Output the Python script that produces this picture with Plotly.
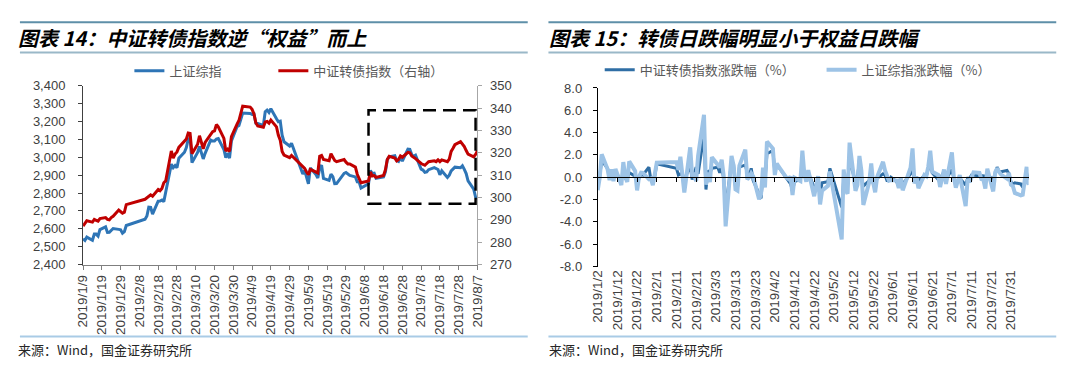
import pandas as pd
import plotly.graph_objects as go

# ---------------- data ----------------
HOLIDAYS = ["2019-02-04", "2019-02-05", "2019-02-06", "2019-02-07", "2019-02-08",
            "2019-04-05", "2019-05-01", "2019-05-02", "2019-05-03", "2019-06-07"]
trade_days = [d for d in pd.bdate_range("2019-01-02", "2019-08-09")
              if d.strftime("%Y-%m-%d") not in HOLIDAYS]
left_days = trade_days[5:-2]          # 2019-01-09 ... 2019-08-07

# 上证综指 (left axis)
sse_close = [
    2544.34, 2535.10, 2553.83, 2535.77, 2570.34, 2570.42, 2559.64, 2596.01, 2610.51, 2579.70, 2581.00, 2591.69, 2601.72, 2596.98, 2594.25, 2575.58, 2584.57,
    2618.23, 2653.90, 2671.89, 2721.07, 2719.70, 2682.39, 2754.36, 2755.65, 2761.22, 2751.80, 2804.23, 2961.28, 2941.52, 2953.82, 2940.95,
    2994.01, 3027.58, 3054.25, 3102.10, 3106.42, 2969.86, 3026.99, 3060.31, 3026.95, 2990.69, 3021.75, 3096.42, 3090.98, 3090.64, 3101.46, 3104.15, 3043.03, 2997.10, 3022.72, 2994.94, 3090.76,
    3170.36, 3176.82, 3216.30, 3246.57, 3244.81, 3239.66, 3241.93, 3189.96, 3188.63, 3177.79, 3253.60, 3263.12, 3250.20, 3270.80, 3215.04, 3198.59, 3201.61, 3123.83, 3086.40, 3062.50, 3078.34,
    2906.46, 2926.39, 2893.76, 2850.95, 2939.21, 2903.71, 2883.61, 2938.68, 2955.71, 2882.30, 2870.60, 2905.97, 2891.70, 2852.52, 2852.99, 2892.38, 2909.91, 2914.70, 2905.81, 2898.70,
    2890.08, 2862.28, 2861.42, 2827.80, 2852.13, 2925.72, 2909.38, 2910.74, 2881.97, 2887.62, 2890.16, 2917.80, 2987.12, 3001.98, 3008.15, 2982.07, 2976.28, 2996.79, 2978.88,
    3044.90, 3043.94, 3015.26, 3005.25, 3011.06, 2933.36, 2928.23, 2915.30, 2917.76, 2930.55, 2942.19, 2937.62, 2931.69, 2901.95, 2924.20, 2886.97, 2899.94, 2923.28, 2937.36, 2944.54, 2941.01, 2952.34, 2932.51,
    2908.77, 2867.84, 2821.50, 2777.56, 2768.68,
]
# 中证转债指数 (right axis)
cb_index = [
    287.2, 288.4, 289.6, 289.0, 290.2, 289.8, 289.4, 290.6, 291.0, 290.2, 290.0, 291.0, 291.6, 294.4, 293.8, 293.0, 293.4,
    296.8, 299.2, 299.8, 300.6, 301.2, 300.6, 303.6, 303.0, 304.0, 306.6, 307.4, 320.8, 317.6, 319.4, 320.4,
    322.4, 325.0, 326.2, 328.8, 328.6, 319.6, 323.8, 327.6, 325.0, 321.8, 324.6, 328.2, 329.4, 329.8, 332.6, 331.6, 326.4, 320.8, 321.6, 320.6, 327.2,
    332.8, 334.4, 337.6, 340.8, 340.4, 339.4, 337.4, 333.4, 332.0, 331.4, 333.8, 334.0, 333.2, 334.6, 331.6, 327.8, 325.6, 320.6, 319.0, 317.8, 318.8,
    313.6, 313.0, 311.4, 310.2, 312.6, 311.2, 311.0, 318.4, 318.8, 317.0, 316.4, 319.6, 317.8, 316.6, 316.0, 316.6, 317.0, 315.8, 315.0, 315.0,
    313.6, 310.4, 308.6, 306.6, 307.4, 311.4, 309.6, 309.8, 309.0, 309.4, 309.8, 312.4, 317.0, 318.4, 317.6, 316.4, 317.0, 318.6, 318.0,
    320.2, 320.0, 318.6, 317.8, 317.4, 315.2, 314.8, 314.4, 315.2, 316.0, 316.4, 316.0, 316.8, 316.0, 316.8, 316.0, 317.2, 320.6, 322.0, 323.6, 325.0, 324.0, 322.8,
    321.0, 319.4, 318.2, 319.2, 321.0,
]
# 中证转债指数涨跌幅 (%)
cb_pct = [
    -0.9, 0.1, 1.5, 0.8, 0.0, 0.4, 0.4, 0.4, -0.2, 0.4, -0.1, -0.1, 0.4, 0.1, -0.3, -0.1, 0.3, 0.2, 0.9, -0.2, -0.3, 0.1,
    1.2, 0.8, 0.2, 0.3, 0.2, -0.2, 1.0, -0.2, 0.3, 0.9, 0.3, 3.8, -1.1, 0.6, 0.4,
    0.8, 0.9, 0.4, 0.9, -0.1, -2.7, 1.3, 1.2, -0.8, -1.0, 0.9, 1.1, 0.4, 0.1, 0.8, -0.3, -1.6, -1.9, 0.3, -0.3, 2.1,
    2.4, 0.5, 1.0, 0.9, -0.1, -0.3, -0.6, -1.2, -0.4, -0.2, 0.7, 0.1, -0.2, 0.4, -0.9, -1.1, -0.7, -1.5, -0.5, -0.4, 0.8,
    -2.7, -0.2, -0.5, -0.4, 1.5, -0.4, -0.1, 1.6, 0.2, -0.8, -0.3, 0.8, -0.5, -0.5, -0.1, 0.3, 0.2, -0.3, -0.3, 0.0,
    -0.4, -0.9, -0.5, -0.6, 0.3, 1.2, -0.5, 0.0, -0.3, 0.1, 0.1, 0.8, 1.4, 0.4, -0.2, -0.4, 0.2, 0.5, -0.2,
    0.7, -0.1, -0.5, -0.3, -0.1, -0.7, -0.1, -0.1, 0.2, 0.2, 0.1, -0.1, 0.2, -0.2, 0.2, -0.2, 0.4, 0.9, 0.5, 0.5, 0.6, 0.3, -0.4,
    -0.6, -0.5, -0.6, -0.9, -0.4, 0.4, -0.2,
]
# 上证综指涨跌幅 (%)
sse_pct = [
    -1.15, -0.04, 2.05, 0.72, -0.26, 0.71, -0.36, 0.74, -0.71, 1.36, 0.00, -0.42, 1.42, 0.56, -1.18, 0.05, 0.41, 0.39, -0.18, -0.11, -0.72, 0.35,
    1.30, 1.36, 0.68, 1.84, -0.05, -1.37, 2.68, 0.05, 0.20, -0.34, 1.91, 5.60, -0.67, 0.42, -0.44,
    1.80, 1.12, 0.88, 1.57, 0.14, -4.40, 1.92, 1.10, -1.09, -1.20, 1.04, 2.47, -0.18, -0.01, 0.35, 0.09, -1.97, -1.51, 0.85, -0.92, 3.20,
    2.58, 0.20, 1.24, 0.94, -0.05, -0.16, 0.07, -1.60, -0.04, -0.34, 2.39, 0.29, -0.40, 0.63, -1.70, -0.51, 0.09, -2.43, -1.20, -0.77, 0.52,
    -5.58, 0.69, -1.12, -1.48, 3.10, -1.21, -0.69, 1.91, 0.58, -2.48, -0.41, 1.23, -0.49, -1.35, 0.02, 1.38, 0.61, 0.16, -0.31, -0.24,
    -0.30, -0.96, -0.03, -1.17, 0.86, 2.58, -0.56, 0.05, -0.99, 0.20, 0.09, 0.96, 2.38, 0.50, 0.21, -0.87, -0.19, 0.69, -0.60,
    2.22, -0.03, -0.94, -0.33, 0.19, -2.58, -0.17, -0.44, 0.08, 0.44, 0.40, -0.16, -0.20, -1.01, 0.77, -1.27, 0.45, 0.80, 0.48, 0.24, -0.12, 0.39, -0.67,
    -0.81, -1.41, -1.62, -1.56, -0.32, 0.93, -0.71,
]

left_ticks = [2400, 2500, 2600, 2700, 2800, 2900, 3000, 3100, 3200, 3300, 3400]
right_ticks = [270, 280, 290, 300, 310, 320, 330, 340, 350]
pct_ticks = [-8, -6, -4, -2, 0, 2, 4, 6, 8]
pct_ticktext = ["-8.0", "-6.0", "-4.0", "-2.0", "0.0", "2.0", "4.0", "6.0", "8.0"]

TITLE_L = "图表 14：中证转债指数逆“权益”而上"
TITLE_R = "图表 15：转债日跌幅明显小于权益日跌幅"
SOURCE = "来源：Wind，国金证券研究所"

# ---------------- layout helpers ----------------
# the page body adds an 8px margin; positions below are screen pixels
OFF = 8
W, H = 1080 - OFF, 383 - OFF
def fx(p): return (p - OFF) / W
def fy(p): return 1 - (p - OFF) / H

CJK = "Noto Sans CJK SC"
NUM = "Liberation Sans, Arial, sans-serif"
DAY_MS = 86400000

fig = go.Figure()
fig.add_trace(go.Scatter(x=left_days, y=sse_close, name="上证综指", mode="lines",
                         line=dict(color="#2E75B6", width=3), xaxis="x", yaxis="y", legend="legend"))
fig.add_trace(go.Scatter(x=left_days, y=cb_index, name="中证转债指数（右轴）", mode="lines",
                         line=dict(color="#C00000", width=3), xaxis="x", yaxis="y2", legend="legend3"))
fig.add_trace(go.Scatter(x=trade_days, y=cb_pct, name="中证转债指数涨跌幅（%）", mode="lines",
                         line=dict(color="#2F6EA5", width=3), xaxis="x2", yaxis="y3", legend="legend2"))
fig.add_trace(go.Scatter(x=trade_days, y=sse_pct, name="上证综指涨跌幅（%）", mode="lines",
                         line=dict(color="#9DC3E6", width=4), xaxis="x2", yaxis="y3", legend="legend4"))
# holder for the zero-line axis
fig.add_trace(go.Scatter(x=[], y=[], xaxis="x3", yaxis="y3", showlegend=False, hoverinfo="skip"))

tickfont = dict(family=NUM, size=13, color="#404040")
ydom_l = [fy(268), fy(81.6)]
ydom_r = [fy(270), fy(84)]

def leg(x_text, y_mid):
    return dict(orientation="h", x=fx(x_text - 45), y=fy(y_mid), xanchor="left", yanchor="middle",
                font=dict(family=CJK, size=13, color="#595959"), bgcolor="rgba(0,0,0,0)",
                itemclick=False, itemdoubleclick=False)

fig.update_layout(
    width=W, height=H, autosize=False,
    margin=dict(l=0, r=0, t=0, b=0),
    paper_bgcolor="white", plot_bgcolor="white",
    font=dict(family=CJK),
    xaxis=dict(domain=[fx(76), fx(476)], anchor="y", type="date",
               range=["2019-01-09", "2019-08-07"], tick0="2019-01-09", dtick=10 * DAY_MS,
               tickformat="%Y/%-m/%-d", tickangle=-90, tickfont=dict(family=NUM, size=13.5, color="#404040"),
               showline=True, linecolor="#7f7f7f", linewidth=1, ticks="outside", ticklen=4,
               tickcolor="#7f7f7f", showgrid=False, zeroline=False),
    yaxis=dict(domain=ydom_l, anchor="x", range=[2400, 3400], tickvals=left_ticks,
               tickformat=",", tickfont=tickfont, showline=True, linecolor="#404040",
               ticks="outside", ticklen=4, tickcolor="#404040", showgrid=False, zeroline=False,
               ticklabelstandoff=10),
    yaxis2=dict(overlaying="y", side="right", anchor="x", range=[270, 350], tickvals=right_ticks,
                tickfont=tickfont, showline=True, linecolor="#a6a6a6", ticks="outside", ticklen=4,
                tickcolor="#a6a6a6", showgrid=False, zeroline=False, ticklabelstandoff=5),
    xaxis2=dict(domain=[fx(598), fx(1035)], anchor="y3", type="date",
                range=["2019-01-02", "2019-08-09"], tick0="2019-01-02", dtick=10 * DAY_MS,
                tickformat="%Y/%-m/%-d", tickangle=-90, tickfont=dict(family=NUM, size=13.5, color="#404040"),
                showline=False, ticks="", showgrid=False, zeroline=False),
    xaxis3=dict(overlaying="x2", anchor="free", position=(ydom_r[0] + ydom_r[1]) / 2, type="date",
                range=["2019-01-02", "2019-08-09"], tick0="2019-01-02", dtick=10 * DAY_MS,
                showticklabels=False, showline=True, linecolor="#000000", linewidth=1,
                ticks="outside", ticklen=4, tickcolor="#000000", showgrid=False, zeroline=False),
    yaxis3=dict(domain=ydom_r, anchor="x2", range=[-8, 8], tickvals=pct_ticks, ticktext=pct_ticktext,
                tickfont=tickfont, showline=True, linecolor="#000000", ticks="outside", ticklen=4,
                tickcolor="#000000", showgrid=False, zeroline=False, ticklabelstandoff=8),
    legend=leg(168, 66),
    legend3=leg(314, 66),
    legend2=leg(645, 65),
    legend4=leg(870, 65),
    showlegend=True,
)

shapes = []
# header/footer rules
for x0, x1 in [(12, 527), (548, 1063)]:
    shapes.append(dict(type="line", xref="paper", yref="paper", x0=fx(x0), x1=fx(x1),
                       y0=fy(15.5), y1=fy(15.5), line=dict(color="#5E8FA8", width=2)))
    shapes.append(dict(type="line", xref="paper", yref="paper", x0=fx(x0), x1=fx(x1),
                       y0=fy(47), y1=fy(47), line=dict(color="#9AB8C8", width=2)))
    shapes.append(dict(type="line", xref="paper", yref="paper", x0=fx(x0), x1=fx(x1),
                       y0=fy(343), y1=fy(343), line=dict(color="#A9CBE6", width=2)))
# highlight box
shapes.append(dict(type="rect", xref="x", yref="y", x0="2019-06-10", x1="2019-08-06",
                   y0=2740, y1=3262, line=dict(color="black", width=2.5, dash="13px,7px"),
                   fillcolor="rgba(0,0,0,0)"))
fig.update_layout(shapes=shapes)

title_font = dict(family=CJK, size=20, color="black", weight="bold", style="italic")
src_font = dict(family=CJK, size=13, color="#262626")
fig.update_layout(annotations=[
    dict(text=TITLE_L, xref="paper", yref="paper", x=fx(8), y=fy(31), xanchor="left",
         yanchor="middle", showarrow=False, font=title_font),
    dict(text=TITLE_R, xref="paper", yref="paper", x=fx(547), y=fy(31), xanchor="left",
         yanchor="middle", showarrow=False, font=title_font),
    dict(text=SOURCE, xref="paper", yref="paper", x=fx(8), y=fy(356), xanchor="left",
         yanchor="middle", showarrow=False, font=src_font),
    dict(text=SOURCE, xref="paper", yref="paper", x=fx(547), y=fy(356), xanchor="left",
         yanchor="middle", showarrow=False, font=src_font),
])

fig.write_html("out.html")
